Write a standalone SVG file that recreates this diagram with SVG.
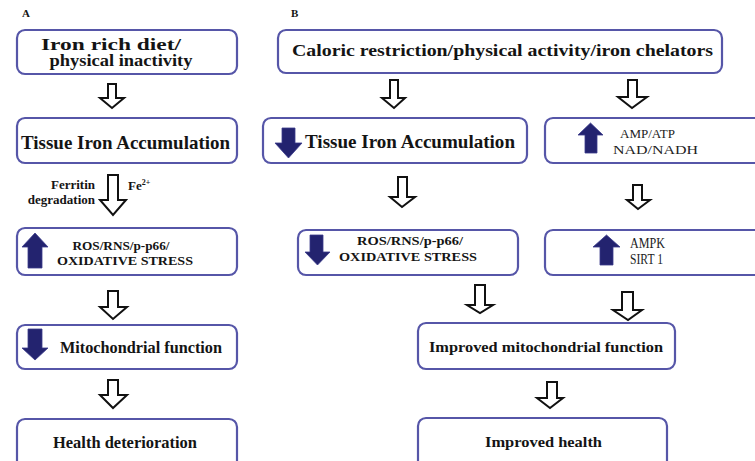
<svg xmlns="http://www.w3.org/2000/svg" width="755" height="461" viewBox="0 0 755 461">
<style>
.box{fill:#fff;stroke:#5656a8;stroke-width:2.2}
.ha{fill:#fff;stroke:#111;stroke-width:2;stroke-linejoin:miter}
.ba{fill:#23236f;stroke:#3a3a8a;stroke-width:0.8}
.t{font-family:"Liberation Serif","Times New Roman",serif;font-weight:bold;fill:#141414}
.r{font-family:"Liberation Serif","Times New Roman",serif;fill:#222}
</style>
<rect width="755" height="461" fill="#fff"/>
<text class="t" x="22" y="17" font-size="11">A</text>
<text class="t" x="291" y="17" font-size="11">B</text>

<g id="connectors">
<path class="ha" d="M108,84 H116 V98 H124 L112,108 L100,98 H108 Z"/>
<path class="ha" d="M108,175 H118 V200 H126 L113,215 L100,200 H108 Z"/>
<path class="ha" d="M108,291 H118 V307 H127 L113,319 L100,307 H108 Z"/>
<path class="ha" d="M108,380 H118 V395 H127 L113,408 L100,395 H108 Z"/>
<path class="ha" d="M390,80 H398 V98 H405 L394,108 L382,98 H390 Z"/>
<path class="ha" d="M628,80 H637 V97 H647 L632,108 L618,97 H628 Z"/>
<path class="ha" d="M398,177 H407 V197 H415 L402,207 L390,197 H398 Z"/>
<path class="ha" d="M633,185 H642 V200 H650 L638,209 L627,200 H633 Z"/>
<path class="ha" d="M475,285 H485 V305 H493 L480,313 L467,305 H475 Z"/>
<path class="ha" d="M622,292 H633 V310 H642 L628,320 L613,310 H622 Z"/>
<path class="ha" d="M547,382 H557 V398 H563 L550,408 L537,398 H547 Z"/>
</g>

<g id="a1">
<rect class="box" x="17" y="30" width="220" height="44" rx="8"/>
<text class="t" x="111" y="50" font-size="16" text-anchor="middle" textLength="140" lengthAdjust="spacingAndGlyphs">Iron rich diet/</text>
<text class="t" x="121" y="66" font-size="16" text-anchor="middle" textLength="143" lengthAdjust="spacingAndGlyphs">physical inactivity</text>
</g>
<g id="a2">
<rect class="box" x="17" y="118" width="220" height="45" rx="8"/>
<text class="t" x="21" y="149" font-size="19" textLength="209" lengthAdjust="spacingAndGlyphs">Tissue Iron Accumulation</text>
</g>
<g id="a-labels">
<text class="t" x="95" y="189" font-size="13" text-anchor="end">Ferritin</text>
<text class="t" x="95" y="204" font-size="13" text-anchor="end">degradation</text>
<text class="t" x="128" y="190" font-size="13">Fe<tspan font-size="8" dy="-5">2+</tspan></text>
</g>
<g id="a3">
<rect class="box" x="17" y="228" width="220" height="47" rx="8"/>
<path class="ba" d="M28,268 V247 H22 L35,233 L48,247 H42 V268 Z"/>
<text class="t" x="121" y="250" font-size="13" text-anchor="middle" textLength="97" lengthAdjust="spacingAndGlyphs">ROS/RNS/p-p66/</text>
<text class="t" x="125" y="265" font-size="13" text-anchor="middle" textLength="136" lengthAdjust="spacingAndGlyphs">OXIDATIVE STRESS</text>
</g>
<g id="a4">
<rect class="box" x="17" y="325" width="220" height="44" rx="8"/>
<path class="ba" d="M28,329 H42 V348 H48 L35,360 L22,348 H28 Z"/>
<text class="t" x="60" y="353" font-size="17" textLength="162" lengthAdjust="spacingAndGlyphs">Mitochondrial function</text>
</g>
<g id="a5">
<rect class="box" x="17" y="419" width="220" height="52" rx="8"/>
<text class="t" x="53" y="448" font-size="16" textLength="144" lengthAdjust="spacingAndGlyphs">Health deterioration</text>
</g>

<g id="b1">
<rect class="box" x="278" y="30" width="444" height="43" rx="8"/>
<text class="t" x="292" y="56" font-size="17" textLength="421" lengthAdjust="spacingAndGlyphs">Caloric restriction/physical activity/iron chelators</text>
</g>
<g id="b2">
<rect class="box" x="263" y="118" width="264" height="45" rx="8"/>
<path class="ba" d="M282,128 H295 V143 H302 L288.5,158 L275,143 H282 Z"/>
<text class="t" x="305" y="148" font-size="18" textLength="210" lengthAdjust="spacingAndGlyphs">Tissue Iron Accumulation</text>
</g>
<g id="b3">
<rect class="box" x="545" y="118" width="220" height="45" rx="8"/>
<path class="ba" d="M585,153 V135 H578 L590.5,123 L603,135 H597 V153 Z"/>
<text class="r" x="620" y="138" font-size="13" textLength="55" lengthAdjust="spacingAndGlyphs">AMP/ATP</text>
<text class="r" x="613" y="154" font-size="13" textLength="85" lengthAdjust="spacingAndGlyphs">NAD/NADH</text>
</g>
<g id="b4">
<rect class="box" x="298" y="230" width="220" height="45" rx="8"/>
<path class="ba" d="M310,235 H323 V252 H330 L317.5,265 L305,252 H310 Z"/>
<text class="t" x="357" y="245" font-size="13" textLength="106" lengthAdjust="spacingAndGlyphs">ROS/RNS/p-p66/</text>
<text class="t" x="339" y="261" font-size="13" textLength="138" lengthAdjust="spacingAndGlyphs">OXIDATIVE STRESS</text>
</g>
<g id="b5">
<rect class="box" x="545" y="230" width="220" height="45" rx="8"/>
<path class="ba" d="M600,265 V247 H593 L606.5,235 L620,247 H613 V265 Z"/>
<text class="r" x="630" y="248" font-size="14" textLength="35" lengthAdjust="spacingAndGlyphs">AMPK</text>
<text class="r" x="630" y="264" font-size="14" textLength="33" lengthAdjust="spacingAndGlyphs">SIRT 1</text>
</g>
<g id="b6">
<rect class="box" x="418" y="323" width="257" height="46" rx="8"/>
<text class="t" x="429" y="352" font-size="15" textLength="234" lengthAdjust="spacingAndGlyphs">Improved mitochondrial function</text>
</g>
<g id="b7">
<rect class="box" x="418" y="418" width="249" height="52" rx="8"/>
<text class="t" x="485" y="447" font-size="15" textLength="117" lengthAdjust="spacingAndGlyphs">Improved health</text>
</g>
</svg>
